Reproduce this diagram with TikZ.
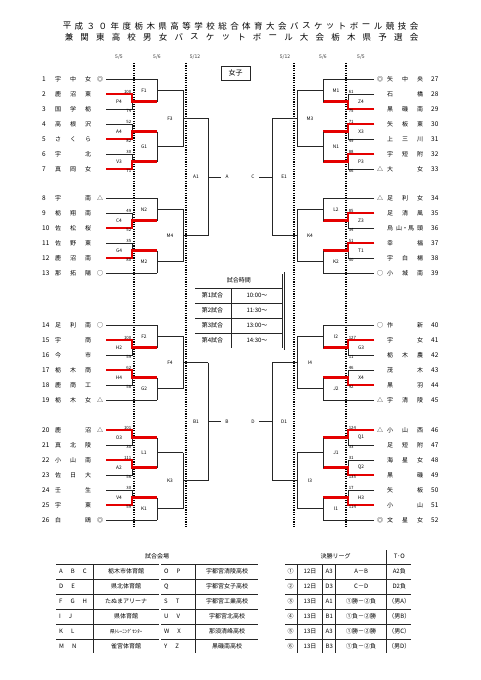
\documentclass[tikz,border=0pt]{standalone}
\usepackage{fontspec}
\setmainfont{Noto Sans CJK JP}
\usetikzlibrary{calc}

\begin{document}
\begin{tikzpicture}[x=1pt,y=-1pt,
        bk/.style={draw=black!85,line width=0.8pt},
        win/.style={draw=red!90!black,line width=2.4pt},
        daysep/.style={draw=black,line width=1.8pt,dash pattern=on 1.2pt off 1.2pt},
        tt/.style={font=\fontsize{8.5}{9}\selectfont,inner sep=0pt},
        hd/.style={font=\fontsize{5}{5}\selectfont,inner sep=0pt,text=black!80},
        nm/.style={font=\fontsize{6}{6}\selectfont,inner sep=0pt},
        num/.style={font=\fontsize{6.5}{6.5}\selectfont,inner sep=0pt},
        sc/.style={font=\fontsize{4.3}{4.3}\selectfont,inner sep=0.6pt},
        mt/.style={font=\fontsize{4.8}{4.8}\selectfont,inner sep=0pt},
        cell/.style={font=\fontsize{6}{6}\selectfont,inner sep=0pt},
        frame/.style={draw=black!85,double,double distance=1.2pt,line width=0.5pt}]

    \useasboundingbox (0,0) rectangle (481,680);

    % title
    \foreach \c [count=\i] in {平,成,３,０,年,度,栃,木,県,高,等,学,校,総,合,体,育,大,会,バ,ス,ケ,ッ,ト,ボ,ー,ル,競,技,会}
        \node[tt] (ta\i) at ({67+(\i-1)*347/29},26) {\c};
    \foreach \c [count=\i] in {兼,関,東,高,校,男,女,バ,ス,ケ,ッ,ト,ボ,ー,ル,大,会,栃,木,県,予,選,会}
        \node[tt] (tb\i) at ({69+(\i-1)*345/22},37) {\c};

    % days
    \node[hd] (hl1) at (119,57) {5/5};
    \node[hd] (hl2) at (157,57) {5/6};
    \node[hd] (hl3) at (195,57) {5/12};
    \node[hd] (hr3) at (285,57) {5/12};
    \node[hd] (hr2) at (323,57) {5/6};
    \node[hd] (hr1) at (361,57) {5/5};
    \foreach \x in {134,186,294,346}
        \draw[daysep] (\x,63) -- (\x,528);

    \node[draw=black!85,line width=0.8pt,minimum width=29pt,minimum height=14pt,
        inner sep=0pt,font=\fontsize{7}{7}\selectfont] (girls) at (235.5,73) {女子};

    % teams
    \foreach \n/\y/\a/\b/\c/\m in {1/79/宇/中/女/◎, 2/94/鹿/沼/東/{}, 3/109/国/学/栃/{},
            4/124/高/根/沢/{}, 5/139/さ/く/ら/{}, 6/154/宇/{}/北/{}, 7/169/真/岡/女/{},
            8/198/宇/{}/南/△, 9/213/栃/翔/南/{}, 10/228/佐/松/桜/{}, 11/243/佐/野/東/{},
            12/258/鹿/沼/南/{}, 13/273/那/拓/陽/○, 14/325/足/利/南/○, 15/340/宇/{}/商/{},
            16/355/今/{}/市/{}, 17/370/栃/木/商/{}, 18/385/鹿/商/工/{}, 19/400/栃/木/女/△,
            20/430/鹿/{}/沼/△, 21/445/真/北/陵/{}, 22/460/小/山/南/{}, 23/475/佐/日/大/{},
            24/490/壬/{}/生/{}, 25/505/宇/{}/東/{}, 26/520/白/{}/鴎/◎} {
        \node[num,anchor=west] (n\n) at (42,\y) {\n};
        \node[nm] (a\n) at (58,\y) {\a};
        \node[nm] (b\n) at (73,\y) {\b};
        \node[nm] (c\n) at (88,\y) {\c};
        \node[nm] (m\n) at (100,\y) {\m};
    }
    \foreach \n/\y/\a/\b/\c/\m in {27/79/矢/中/央/◎, 28/94/石/{}/橋/{}, 29/109/黒/磯/南/{},
            30/124/矢/板/東/{}, 31/139/上/三/川/{}, 32/154/宇/短/附/{}, 33/169/大/{}/女/△,
            34/198/足/利/女/△, 35/213/足/清/風/{}, 36/228/烏/山・馬/頭/{}, 37/243/幸/{}/福/{},
            38/258/宇/白/楊/{}, 39/273/小/城/南/○, 40/325/作/{}/新/○, 41/340/宇/{}/女/{},
            42/355/栃/木/農/{}, 43/370/茂/{}/木/{}, 44/385/黒/{}/羽/{}, 45/400/宇/清/陵/△,
            46/430/小/山/西/△, 47/445/足/短/附/{}, 48/460/海/星/女/{}, 49/475/黒/{}/磯/{},
            50/490/矢/{}/板/{}, 51/505/小/{}/山/{}, 52/520/文/星/女/◎} {
        \node[nm] (m\n) at (380,\y) {\m};
        \node[nm] (a\n) at (390,\y) {\a};
        \node[nm] (b\n) at (405,\y) {\b};
        \node[nm] (c\n) at (420,\y) {\c};
        \node[num,anchor=west] (n\n) at (431,\y) {\n};
    }

    % byes
    \foreach \y in {79,198,273,325,400,520}
        \foreach \s in {-1,1}
            \draw[bk] ({240+(\s)*134},\y) -- ({240+(\s)*83},\y);

    % first round
    \foreach \s/\ya/\yb/\sa/\sb/\lab/\w in {-1/94/109/100/74/P4/1, -1/124/139/52/82/A4/2,
            -1/154/169/30/71/V3/2, -1/213/228/49/52/C4/2, -1/243/258/35/80/G4/2,
            -1/340/355/100/59/H2/1, -1/370/385/62/58/H4/1, -1/430/445/101/30/O3/1,
            -1/460/475/111/56/A2/1, -1/490/505/30/59/V4/2,
            1/94/109/61/75/Z4/2, 1/124/139/71/49/X3/1, 1/154/169/88/66/P3/1,
            1/213/228/85/34/Z3/1, 1/243/258/51/50/T1/1, 1/340/355/127/11/G3/1,
            1/370/385/46/92/X4/2, 1/430/445/124/33/Q1/1, 1/460/475/31/135/Q2/2,
            1/490/505/17/114/H3/2} {
        \ifnum\s<0 \def\ua{south east}\def\la{north east}\else\def\ua{south west}\def\la{north west}\fi
        \pgfmathsetmacro\xa{240+(\s)*134}
        \pgfmathsetmacro\xj{240+(\s)*108}
        \pgfmathsetmacro\xn{240+(\s)*83}
        \pgfmathsetmacro\xl{240+(\s)*121}
        \pgfmathsetmacro\ym{(\ya+\yb)/2}
        \pgfmathsetmacro\yw{\w==1 ? \ya : \yb}
        \draw[bk] (\xa,\ya) -- (\xj,\ya) -- (\xj,\yb) -- (\xa,\yb);
        \draw[bk] (\xj,\ym) -- (\xn,\ym);
        \draw[win] (\xa,\yw) -- (\xj,\yw) -- (\xj,\ym) -- (\xn,\ym);
        \node[sc,anchor=\ua] (s\lab a) at (\xj,\ya) {\sa};
        \node[sc,anchor=\la] (s\lab b) at (\xj,\yb) {\sb};
        \node[mt] (g\lab) at (\xl,\ym) {\lab};
    }

    % second round
    \foreach \ya/\yb/\la/\lb in {79/101.5/F1/M1, 131.5/161.5/G1/N1, 198/220.5/N2/L2,
            250.5/273/M2/K2, 325/347.5/F2/I2, 377.5/400/G2/J2, 437.5/467.5/L1/J1,
            497.5/520/K1/I1} {
        \pgfmathsetmacro\ym{(\ya+\yb)/2}
        \foreach \s/\l in {-1/\la,1/\lb} {
            \draw[bk] ({240+(\s)*83},\ya) -- ({240+(\s)*83},\yb);
            \draw[bk] ({240+(\s)*83},\ym) -- ({240+(\s)*57},\ym);
            \node[mt] (g\l) at ({240+(\s)*96},\ym) {\l};
        }
    }

    % third round
    \foreach \ya/\yb/\la/\lb in {90.25/146.5/F3/M3, 209.25/261.75/M4/K4,
            336.25/388.75/F4/I4, 452.5/508.75/K3/I3} {
        \pgfmathsetmacro\ym{(\ya+\yb)/2}
        \foreach \s/\l in {-1/\la,1/\lb} {
            \draw[bk] ({240+(\s)*57},\ya) -- ({240+(\s)*57},\yb);
            \draw[bk] ({240+(\s)*57},\ym) -- ({240+(\s)*32},\ym);
            \node[mt] (g\l) at ({240+(\s)*70},\ym) {\l};
        }
    }

    % semifinals
    \foreach \ya/\yb/\la/\lb/\fa/\fb in {118.375/235.5/A1/E1/A/C, 362.5/480.625/B1/D1/B/D} {
        \pgfmathsetmacro\ym{(\ya+\yb)/2}
        \foreach \s/\l/\f in {-1/\la/\fa,1/\lb/\fb} {
            \draw[bk] ({240+(\s)*32},\ya) -- ({240+(\s)*32},\yb);
            \draw[bk] ({240+(\s)*32},\ym) -- ({240+(\s)*19},\ym);
            \node[mt] (g\l) at ({240+(\s)*44},\ym) {\l};
            \node[mt] (f\f) at ({240+(\s)*13},\ym) {\f};
        }
    }

    % match times
    \draw[bk,line width=0.6pt] (194,288) -- (283.5,288);
    \foreach \y in {303,318,333}
        \draw[bk,line width=0.6pt] (194,\y) -- (283.5,\y);
    \draw[bk,line width=0.6pt] (231,288) -- (231,349);
    \draw[frame] (194,273) rectangle (283.5,349);
    \node[cell] (sched) at (238.75,280.5) {試合時間};
    \foreach \k/\t [count=\i] in {1/10:00～,2/11:30～,3/13:00～,4/14:30～} {
        \node[cell] (sg\k) at (212.5,{288+(\i-0.5)*15}) {第\k 試合};
        \node[cell] (st\k) at (257,{288+(\i-0.5)*15}) {\t};
    }

    % venues
    \foreach \y in {564,579,594,609,624,639}
        \draw[bk,line width=0.6pt] (55,\y) -- (259,\y);
    \foreach \x in {93,195}
        \draw[bk,line width=0.6pt] (\x,564) -- (\x,654);
    \draw[frame] (160,564) -- (160,654);
    \draw[frame] (55,549) rectangle (259,654);
    \node[cell] (venue) at (157,556.5) {試合会場};
    \foreach \ca/\va/\cb/\vb [count=\i] in {A\hspace{8pt}B\hspace{8pt}C/栃木市体育館/O\hspace{8pt}P/宇都宮清陵高校,
            D\hspace{8pt}E/県北体育館/Q/宇都宮女子高校,
            F\hspace{8pt}G\hspace{8pt}H/たぬまアリーナ/S\hspace{8pt}T/宇都宮工業高校,
            I\hspace{8pt}J/県体育館/U\hspace{8pt}V/宇都宮北高校,
            K\hspace{8pt}L/{\fontsize{5}{5}\selectfont 県ﾄﾚｰﾆﾝｸﾞｾﾝﾀｰ}/W\hspace{8pt}X/那須清峰高校,
            M\hspace{8pt}N/雀宮体育館/Y\hspace{8pt}Z/黒磯南高校} {
        \node[cell,anchor=west] (vc\i) at (59,{564+(\i-0.5)*15}) {\ca};
        \node[cell] (vn\i) at (126,{564+(\i-0.5)*15}) {\va};
        \node[cell,anchor=west] (wc\i) at (164,{564+(\i-0.5)*15}) {\cb};
        \node[cell] (wn\i) at (227,{564+(\i-0.5)*15}) {\vb};
    }

    % final league
    \foreach \y in {564,579,594,609,624,639}
        \draw[bk,line width=0.6pt] (284,\y) -- (412,\y);
    \foreach \x in {297.3,322.7,335.7}
        \draw[bk,line width=0.6pt] (\x,564) -- (\x,654);
    \draw[bk,line width=0.6pt] (386.7,549) -- (386.7,654);
    \draw[frame] (284,549) rectangle (412,654);
    \node[cell] (league) at (335.5,556.5) {決勝リーグ};
    \node[cell] (to) at (399.3,556.5) {T･O};
    \foreach \g/\d/\v/\p/\o [count=\i] in {①/12日/A3/A－B/A2負, ②/12日/D3/C－D/D2負,
            ③/13日/A1/①勝－②負/（男A）, ④/13日/B1/①負－②勝/（男B）,
            ⑤/13日/A3/①勝－②勝/（男C）, ⑥/13日/B3/①負－②負/（男D）} {
        \node[cell] (lg\i) at (290.7,{564+(\i-0.5)*15}) {\g};
        \node[cell] (ld\i) at (310,{564+(\i-0.5)*15}) {\d};
        \node[cell] (lv\i) at (329.2,{564+(\i-0.5)*15}) {\v};
        \node[cell] (lp\i) at (361.2,{564+(\i-0.5)*15}) {\p};
        \node[cell] (lo\i) at (399.3,{564+(\i-0.5)*15}) {\o};
    }
\end{tikzpicture}
\end{document}
